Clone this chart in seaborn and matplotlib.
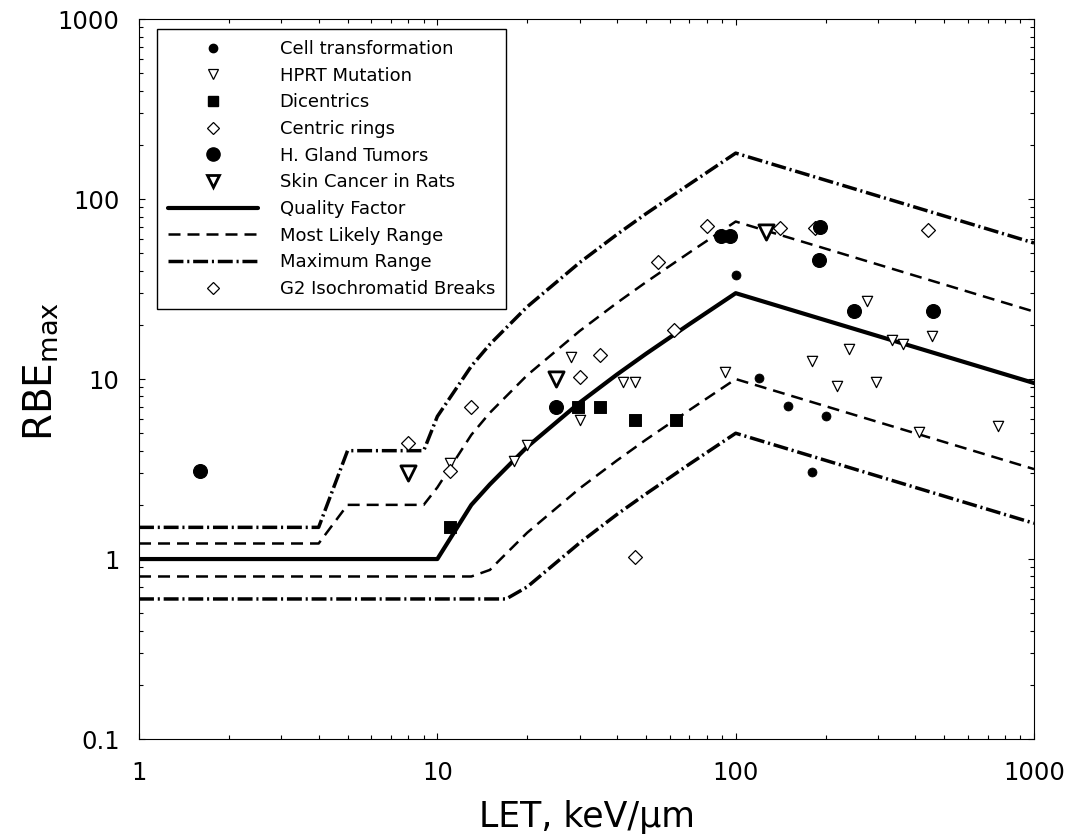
import numpy as np
import pandas as pd
import matplotlib
matplotlib.use('Agg')
import matplotlib.pyplot as plt
import seaborn as sns
from matplotlib.lines import Line2D
from matplotlib.ticker import FixedLocator, LogLocator, NullFormatter

# Dados experimentais (LET em keV/um, RBE max)
cell_let = [100, 120, 150, 200, 180]
cell_rbe = [38, 10.2, 7.1, 6.2, 3.05]

hprt_let = [28, 30, 42, 46, 92, 180, 218, 11, 18, 20, 275, 240, 295, 335, 365, 455, 410, 755]
hprt_rbe = [13.2, 5.9, 9.6, 9.6, 11, 12.6, 9.2, 3.4, 3.5, 4.3, 27, 14.7, 9.6, 16.5, 15.6, 17.3, 5.1, 5.5]

dic_let = [11, 29.5, 35, 46, 63]
dic_rbe = [1.5, 7.0, 7.0, 5.9, 5.9]

ring_let = [8, 11, 13, 30, 35, 46, 62]
ring_rbe = [4.4, 3.1, 7.0, 10.3, 13.6, 1.03, 18.8]

gland_let = [1.6, 25, 89, 96, 190, 192, 250, 460]
gland_rbe = [3.1, 7.0, 62, 62, 46, 70, 23.8, 23.8]

skin_let = [8, 25, 126]
skin_rbe = [3.0, 10, 66]

g2_let = [55, 80, 141, 185, 440]
g2_rbe = [44.5, 71, 69, 69, 67.5]

# Curvas (fator de qualidade e faixas)
qf_let = [1, 10, 13, 15, 20, 30, 40, 50, 70, 100, 1000]
qf_rbe = [1, 1, 2.0, 2.6, 4.2, 7.4, 10.6, 13.8, 20.2, 30, 9.5]

ml_up_let = [1, 4, 5, 9, 10, 13, 15, 20, 30, 40, 50, 70, 100, 1000]
ml_up_rbe = [1.22, 1.22, 2.0, 2.0, 2.5, 4.9, 6.5, 10.5, 18.5, 26.5, 34.5, 50.5, 75, 23.7]

ml_lo_let = [1, 13, 15, 16, 20, 30, 40, 50, 70, 100, 1000]
ml_lo_rbe = [0.8, 0.8, 0.87, 0.97, 1.4, 2.47, 3.53, 4.6, 6.73, 10, 3.16]

mx_up_let = [1, 4, 5, 9, 10, 13, 15, 20, 30, 40, 50, 70, 100, 1000]
mx_up_rbe = [1.5, 1.5, 4.0, 4.0, 6.2, 11.8, 15.6, 25.2, 44.4, 63.6, 82.8, 121, 180, 57]

mx_lo_let = [1, 17, 20, 30, 40, 50, 70, 100, 1000]
mx_lo_rbe = [0.6, 0.6, 0.7, 1.23, 1.77, 2.3, 3.37, 5, 1.58]

sns.set_style('ticks')
plt.rcParams['font.family'] = ['DejaVu Sans']
plt.rcParams['mathtext.default'] = 'regular'
plt.rcParams['text.color'] = 'black'
plt.rcParams['axes.labelcolor'] = 'black'
plt.rcParams['xtick.color'] = 'black'
plt.rcParams['ytick.color'] = 'black'

fig = plt.figure(figsize=(10.76, 8.4), dpi=100)
ax = fig.add_axes([0.1292, 0.1202, 0.8318, 0.8571])
ax.set_xscale('log')
ax.set_yscale('log')

# Linhas
dash = (0, (4.8, 2.8))
dashdot = (0, (4.3, 1.1, 0.6, 1.1))
sns.lineplot(x=qf_let, y=qf_rbe, ax=ax, color='black', lw=3.0, estimator=None, sort=False)
sns.lineplot(x=ml_up_let, y=ml_up_rbe, ax=ax, color='black', lw=1.8, linestyle=dash, estimator=None, sort=False)
sns.lineplot(x=ml_lo_let, y=ml_lo_rbe, ax=ax, color='black', lw=1.8, linestyle=dash, estimator=None, sort=False)
sns.lineplot(x=mx_up_let, y=mx_up_rbe, ax=ax, color='black', lw=2.5, linestyle=dashdot, estimator=None, sort=False)
sns.lineplot(x=mx_lo_let, y=mx_lo_rbe, ax=ax, color='black', lw=2.5, linestyle=dashdot, estimator=None, sort=False)

# Pontos
sns.scatterplot(x=cell_let, y=cell_rbe, ax=ax, marker='o', s=42, color='black', edgecolor='black', zorder=3)
sns.scatterplot(x=hprt_let, y=hprt_rbe, ax=ax, marker='v', s=55, facecolor='white', edgecolor='black', linewidth=0.9, zorder=3)
sns.scatterplot(x=dic_let, y=dic_rbe, ax=ax, marker='s', s=70, color='black', edgecolor='black', zorder=3)
sns.scatterplot(x=ring_let, y=ring_rbe, ax=ax, marker='D', s=50, facecolor='white', edgecolor='black', linewidth=0.9, zorder=3)
sns.scatterplot(x=g2_let, y=g2_rbe, ax=ax, marker='D', s=50, facecolor='white', edgecolor='black', linewidth=0.9, zorder=3)
sns.scatterplot(x=gland_let, y=gland_rbe, ax=ax, marker='o', s=100, color='black', edgecolor='black', zorder=3)
sns.scatterplot(x=skin_let, y=skin_rbe, ax=ax, marker='v', s=120, facecolor='white', edgecolor='black', linewidth=2.0, zorder=3)

ax.set_xlim(1, 1000)
ax.set_ylim(0.1, 1000)

ax.xaxis.set_major_locator(FixedLocator([1, 10, 100, 1000]))
ax.set_xticklabels(['1', '10', '100', '1000'])
ax.yaxis.set_major_locator(FixedLocator([0.1, 1, 10, 100, 1000]))
ax.set_yticklabels(['0.1', '1', '10', '100', '1000'])
for axis in (ax.xaxis, ax.yaxis):
    axis.set_minor_locator(LogLocator(base=10, subs=np.arange(2, 10)))
    axis.set_minor_formatter(NullFormatter())

ax.tick_params(which='both', direction='in', top=True, right=True, width=0.8, color='black', labelcolor='black')
ax.tick_params(which='major', length=4.5, labelsize=17.5)
ax.tick_params(which='minor', length=3)
ax.tick_params(axis='x', which='major', pad=16)
ax.tick_params(axis='y', which='major', pad=14)
for sp in ax.spines.values():
    sp.set_linewidth(0.8)
    sp.set_color('black')

ax.set_xlabel('LET, keV/\u03bcm', fontsize=25, color='black')
ax.set_ylabel('RBE$_{max}$', fontsize=28, color='black')
ax.xaxis.set_label_coords(0.5, -0.085)
ax.yaxis.set_label_coords(-0.088, 0.51)

# Legenda
handles = [
    Line2D([], [], ls='none', marker='o', ms=6, color='black'),
    Line2D([], [], ls='none', marker='v', ms=6.5, mfc='white', mec='black', mew=0.9),
    Line2D([], [], ls='none', marker='s', ms=7.5, color='black'),
    Line2D([], [], ls='none', marker='D', ms=6, mfc='white', mec='black', mew=0.9),
    Line2D([], [], ls='none', marker='o', ms=9.5, color='black'),
    Line2D([], [], ls='none', marker='v', ms=9, mfc='white', mec='black', mew=2.0),
    Line2D([], [], color='black', lw=3.0),
    Line2D([], [], color='black', lw=1.8, ls=dash),
    Line2D([], [], color='black', lw=2.5, ls=dashdot),
    Line2D([], [], ls='none', marker='D', ms=6, mfc='white', mec='black', mew=0.9),
]
labels = ['Cell transformation', 'HPRT Mutation', 'Dicentrics', 'Centric rings',
          'H. Gland Tumors', 'Skin Cancer in Rats', 'Quality Factor',
          'Most Likely Range', 'Maximum Range', 'G2 Isochromatid Breaks']
leg = ax.legend(handles, labels, loc='upper left', bbox_to_anchor=(0.02, 0.986),
                borderaxespad=0, fontsize=13, handlelength=5.0, handletextpad=1.2,
                labelspacing=0.48, frameon=True, fancybox=False, framealpha=1,
                edgecolor='black', borderpad=0.6, labelcolor='black')
leg.get_frame().set_linewidth(1.0)

fig.savefig('out.png', dpi=100)
